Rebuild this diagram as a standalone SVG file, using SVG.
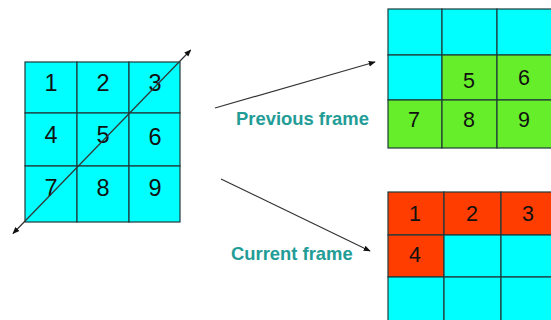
<svg xmlns="http://www.w3.org/2000/svg" width="551" height="320" viewBox="0 0 551 320">
<defs>
<style>
.c{fill:#00FFFF;stroke:#1E3A3A;stroke-width:1.2}
.g{fill:#66EE2A;stroke:#1E3A3A;stroke-width:1.2}
.r{fill:#FF3D00;stroke:#1E3A3A;stroke-width:1.2}
.n{font-family:"Liberation Sans",Arial,sans-serif;font-size:23.5px;fill:#111;text-anchor:middle}
.m{font-family:"Liberation Sans",Arial,sans-serif;font-size:21.5px;fill:#111;text-anchor:middle}
.lbl{font-family:"Liberation Sans",Arial,sans-serif;font-size:18.4px;font-weight:bold;fill:#229C96}
.a{stroke:#333;stroke-width:1.2;fill:none}
</style>
<marker id="ah" viewBox="0 0 10 10" refX="9" refY="5" markerWidth="7" markerHeight="7" orient="auto-start-reverse" markerUnits="userSpaceOnUse">
<path d="M0,1 L10,5 L0,9 z" fill="#111"/>
</marker>
</defs>
<rect width="551" height="320" fill="#fff"/>

<g id="left-grid">
<rect class="c" x="25" y="62" width="52" height="51"/>
<rect class="c" x="77" y="62" width="52" height="51"/>
<rect class="c" x="129" y="62" width="51" height="51"/>
<rect class="c" x="25" y="113" width="52" height="53"/>
<rect class="c" x="77" y="113" width="52" height="53"/>
<rect class="c" x="129" y="113" width="51" height="53"/>
<rect class="c" x="25" y="166" width="52" height="56"/>
<rect class="c" x="77" y="166" width="52" height="56"/>
<rect class="c" x="129" y="166" width="51" height="56"/>
<text class="n" x="51" y="91">1</text>
<text class="n" x="103" y="91">2</text>
<text class="n" x="155" y="91">3</text>
<text class="n" x="51" y="143">4</text>
<text class="n" x="103" y="143">5</text>
<text class="n" x="155" y="145">6</text>
<text class="n" x="51" y="196">7</text>
<text class="n" x="103" y="196">8</text>
<text class="n" x="155" y="196">9</text>
</g>

<g id="previous-frame">
<rect class="c" x="388" y="9" width="54" height="46"/>
<rect class="c" x="442" y="9" width="55" height="46"/>
<rect class="c" x="497" y="9" width="56" height="46"/>
<rect class="c" x="388" y="55" width="54" height="45"/>
<rect class="g" x="442" y="55" width="55" height="45"/>
<rect class="g" x="497" y="55" width="56" height="45"/>
<rect class="g" x="388" y="100" width="54" height="48"/>
<rect class="g" x="442" y="100" width="55" height="48"/>
<rect class="g" x="497" y="100" width="56" height="48"/>
<text class="m" x="469" y="88">5</text>
<text class="m" x="524" y="85">6</text>
<text class="m" x="414" y="127">7</text>
<text class="m" x="469" y="127">8</text>
<text class="m" x="524" y="127">9</text>
</g>

<g id="current-frame">
<rect class="r" x="388" y="192" width="56" height="43"/>
<rect class="r" x="444" y="192" width="57" height="43"/>
<rect class="r" x="501" y="192" width="52" height="43"/>
<rect class="r" x="388" y="235" width="56" height="42"/>
<rect class="c" x="444" y="235" width="57" height="42"/>
<rect class="c" x="501" y="235" width="52" height="42"/>
<rect class="c" x="388" y="277" width="56" height="45"/>
<rect class="c" x="444" y="277" width="57" height="45"/>
<rect class="c" x="501" y="277" width="52" height="45"/>
<text class="m" x="415" y="221">1</text>
<text class="m" x="472" y="221">2</text>
<text class="m" x="528" y="221">3</text>
<text class="m" x="415" y="262">4</text>
</g>

<g id="labels">
<text class="lbl" x="236" y="125">Previous frame</text>
<text class="lbl" x="231" y="260">Current frame</text>
</g>

<g id="connectors">
<line class="a" x1="13" y1="233.5" x2="190.7" y2="50" marker-start="url(#ah)" marker-end="url(#ah)"/>
<line class="a" x1="215" y1="108" x2="375" y2="62" marker-end="url(#ah)"/>
<line class="a" x1="221" y1="179" x2="370" y2="251" marker-end="url(#ah)"/>
</g>
</svg>
